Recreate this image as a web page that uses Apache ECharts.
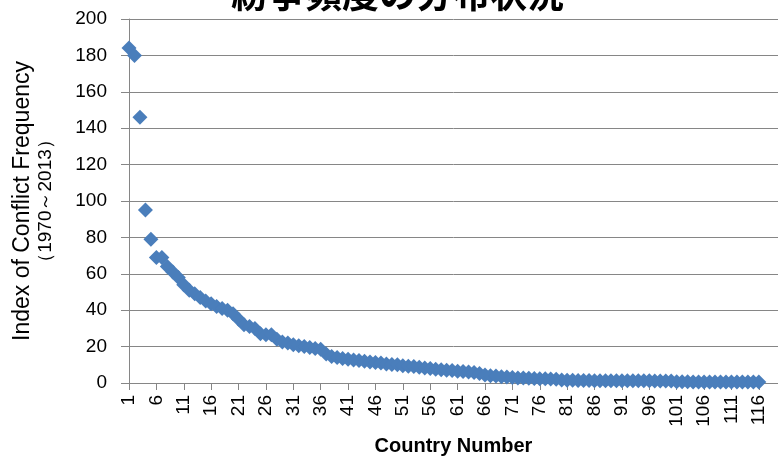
<!DOCTYPE html>
<html>
<head>
<meta charset="utf-8">
<script src="https://cdn.jsdelivr.net/npm/echarts@6/dist/echarts.min.js"></script>
<style>
  html, body { margin: 0; padding: 0; background: #fff; }
  #conflictChart { width: 778px; height: 461px; }
</style>
</head>
<body>
<div id="conflictChart"></div>
<script>
// country numbers 1..116, sorted by conflict index (descending)
var conflictIndex = [
  184, 180, 146, 95, 79, 69, 69, 64, 61, 58,
  54, 51, 49, 47, 45, 43.5, 42, 41, 40, 38,
  35, 32, 31, 30, 27, 26.5, 26.5, 24, 22.5, 22,
  21, 20.5, 20, 19.5, 19, 18.5, 16, 14.6, 14, 13.5,
  13, 12.7, 12.3, 12, 11.5, 11.2, 11, 10.5, 10.2, 10,
  9.5, 9.2, 9, 8.7, 8.3, 8, 7.6, 7.3, 7, 6.8,
  6.5, 6.3, 6, 5.8, 5.2, 4.4, 4, 3.8, 3.5, 3.3,
  3, 2.8, 2.7, 2.6, 2.5, 2.4, 2.3, 2.2, 2.1, 1.6,
  1.5, 1.5, 1.4, 1.4, 1.4, 1.3, 1.3, 1.3, 1.3, 1.3,
  1.2, 1.2, 1.2, 1.2, 1.2, 1.2, 1.1, 1.1, 1.1, 1.1,
  0.7, 0.7, 0.7, 0.6, 0.6, 0.6, 0.6, 0.6, 0.6, 0.6,
  0.5, 0.5, 0.5, 0.5, 0.5, 0.5
];
var countryNumbers = conflictIndex.map(function (v, i) { return i + 1; });
var xTickLabels = [1, 6, 11, 16, 21, 26, 31, 36, 41, 46, 51, 56, 61, 66, 71, 76, 81, 86, 91, 96, 101, 106, 111, 116];

var chartDom = document.getElementById('conflictChart');
var myChart = echarts.init(chartDom, null, { renderer: 'canvas' });
var option;

var gray = '#868686';
var labelFont = '"Liberation Sans", Arial, sans-serif';

option = {
  backgroundColor: '#ffffff',
  animation: false,
  title: {
    text: '紛争頻度の分布状況',
    left: 226,
    top: -30,
    textStyle: {
      fontFamily: '"Noto Sans CJK JP", sans-serif',
      fontSize: 37,
      fontWeight: 'bold',
      color: '#000'
    }
  },
  grid: {
    left: 129,
    right: 0,
    top: 19,
    bottom: 75
  },
  xAxis: {
    type: 'value',
    min: 1,
    max: 119.5,
    name: 'Country Number',
    nameLocation: 'middle',
    nameGap: 53,
    nameTextStyle: {
      fontFamily: labelFont,
      fontSize: 20,
      fontWeight: 'bold',
      color: '#000'
    },
    axisLine: { show: true, lineStyle: { color: gray, width: 1 } },
    axisTick: {
      show: true,
      length: 7,
      customValues: xTickLabels,
      lineStyle: { color: gray }
    },
    axisLabel: {
      customValues: xTickLabels,
      rotate: 90,
      margin: 12,
      fontFamily: labelFont,
      fontSize: 19,
      color: '#000'
    },
    splitLine: { show: false }
  },
  yAxis: {
    type: 'value',
    min: 0,
    max: 200,
    interval: 20,
    name: '{a|Index of Conflict Frequency}\n{b|（1970～2013）}',
    nameLocation: 'middle',
    nameGap: 72,
    nameTextStyle: {
      fontFamily: labelFont,
      color: '#000',
      rich: {
        a: { fontFamily: labelFont, fontSize: 23, lineHeight: 23, color: '#000' },
        b: { fontFamily: labelFont, fontSize: 19, lineHeight: 23, color: '#000' }
      }
    },
    axisLine: { show: true, lineStyle: { color: gray, width: 1 } },
    axisTick: { show: true, length: 8, lineStyle: { color: gray } },
    axisLabel: {
      margin: 22,
      fontFamily: labelFont,
      fontSize: 19,
      color: '#000'
    },
    splitLine: { show: true, lineStyle: { color: gray, width: 1 } }
  },
  series: [
    {
      name: 'Conflict Index',
      type: 'scatter',
      symbol: 'diamond',
      symbolSize: 15,
      itemStyle: { color: '#4A7EBB', opacity: 1 },
      data: countryNumbers.map(function (n, i) { return [n, conflictIndex[i]]; })
    }
  ]
};

option && myChart.setOption(option);
</script>
</body>
</html>
